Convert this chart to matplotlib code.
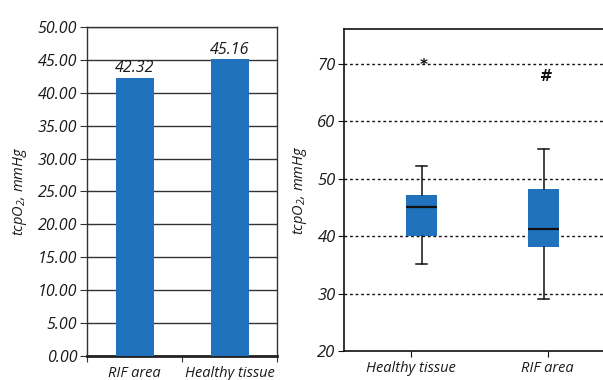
import numpy as np
import matplotlib
matplotlib.use("Agg")
import matplotlib.pyplot as plt

plt.rcParams['font.family'] = ['Open Sans', 'DejaVu Sans']
plt.rcParams['font.style'] = 'italic'
plt.rcParams['mathtext.fontset'] = 'custom'
plt.rcParams['mathtext.it'] = 'Open Sans:italic'
plt.rcParams['mathtext.rm'] = 'Open Sans:italic'

# left panel: mean tcpO2
bar_cats = ["RIF area", "Healthy tissue"]
bar_vals = [42.32, 45.16]

# right panel: box plot stats
box_cats = ["Healthy tissue", "RIF area"]
box_whislo = [35.1, 29.1]
box_q1 = [40.1, 38.1]
box_med = [45.1, 41.3]
box_q3 = [47.2, 48.3]
box_whishi = [52.3, 55.2]
box_marks = ["*", "#"]
box_mark_y = [69.7, 67.8]

blue = "#1f72bb"
txt = "#1a1a1a"
ylab = r"tcpO$_2$, mmHg"

fig = plt.figure(figsize=(6.03, 3.8), dpi=100)

# ---- left: bar chart ----
ax1 = fig.add_axes([0.1443, 0.0632, 0.3151, 0.8658])
x = np.arange(len(bar_cats)) + 0.5
ax1.bar(x, bar_vals, width=0.4, color=blue, zorder=3)
for xi, v in zip(x, bar_vals):
    ax1.text(xi, v + 0.2, f"{v:.2f}", ha="center", va="bottom", fontsize=11.5, color=txt)
ax1.set_xlim(0, 2)
ax1.set_ylim(0, 50)
ax1.set_yticks(np.arange(0, 51, 5))
ax1.set_yticklabels([f"{t:.2f}" for t in np.arange(0, 51, 5)], fontsize=11.5, color=txt)
ax1.set_xticks([0, 1, 2])
ax1.set_xticklabels([])
ax1.set_xticks(x, minor=True)
ax1.set_xticklabels(bar_cats, minor=True, fontsize=10.5, color=txt)
ax1.tick_params(axis="x", which="major", length=4, direction="out", color="#333333")
ax1.tick_params(axis="x", which="minor", length=0, pad=7)
ax1.tick_params(axis="y", length=5, direction="out", color="#333333", pad=2)
ax1.yaxis.grid(True, color="#333333", linewidth=1.0, zorder=0)
ax1.set_axisbelow(True)
for s in ["top", "right", "left"]:
    ax1.spines[s].set_color("#333333")
    ax1.spines[s].set_linewidth(1.0)
ax1.spines["bottom"].set_linewidth(2.0)
ax1.spines["bottom"].set_color("#222222")
ax1.set_ylabel(ylab, fontsize=10.5, labelpad=6, color=txt)

# ---- right: box plot ----
ax2 = fig.add_axes([0.5705, 0.0763, 0.44, 0.8474])
pos = [1, 2]
stats = []
for i in range(len(box_cats)):
    stats.append(dict(whislo=box_whislo[i], q1=box_q1[i], med=box_med[i],
                      q3=box_q3[i], whishi=box_whishi[i], fliers=[]))
ax2.bxp(stats, positions=pos, widths=0.26, patch_artist=True, showfliers=False,
        capwidths=0.095,
        boxprops=dict(facecolor=blue, edgecolor=blue, linewidth=0),
        medianprops=dict(color="#111111", linewidth=1.6),
        whiskerprops=dict(color="#111111", linewidth=1.1),
        capprops=dict(color="#111111", linewidth=1.1))
for p, m, my in zip(pos, box_marks, box_mark_y):
    ax2.text(p + 0.02, my, m, ha="center", va="center", fontsize=11,
             fontweight="bold", color="#111111", fontstyle="normal", family="DejaVu Sans")
ax2.set_xlim(0.363, 2.54)
ax2.set_ylim(20, 76.1)
ax2.set_yticks(np.arange(20, 71, 10))
ax2.set_yticklabels([str(t) for t in range(20, 71, 10)], fontsize=12, color=txt)
ax2.set_xticks([0.91, 2.034])
ax2.set_xticklabels(box_cats, fontsize=10.5, color=txt)
ax2.tick_params(axis="x", length=4, color="#111111")
ax2.tick_params(axis="y", length=4, color="#111111", pad=2)
for gy in range(30, 71, 10):
    ax2.axhline(gy, color="#111111", linestyle=(0, (2, 2)), linewidth=1.0, zorder=0)
ax2.spines["right"].set_visible(False)
for s in ["top", "left", "bottom"]:
    ax2.spines[s].set_color("#111111")
    ax2.spines[s].set_linewidth(1.2)
ax2.set_ylabel(ylab, fontsize=10.5, labelpad=6, color=txt)

fig.savefig("out.png", dpi=100)
